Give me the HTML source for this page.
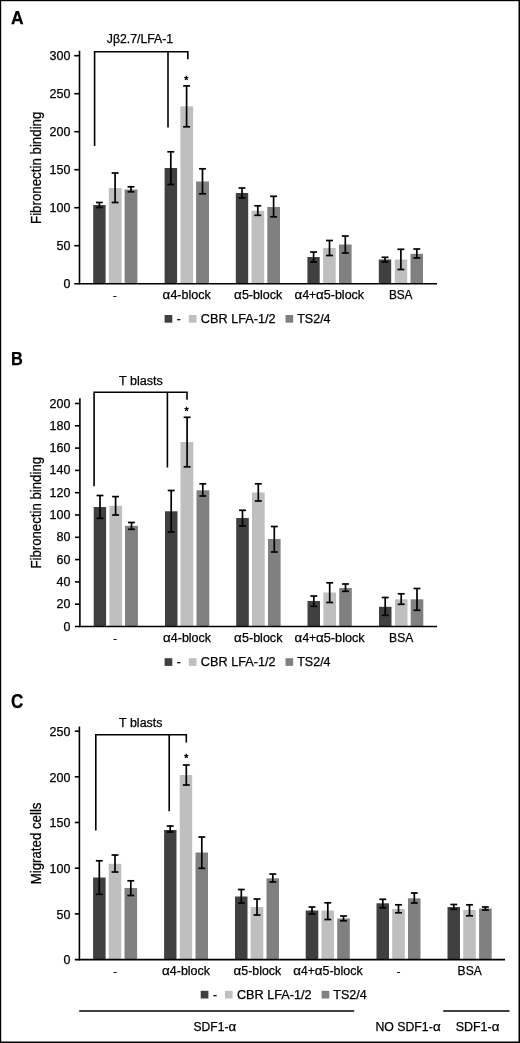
<!DOCTYPE html>
<html lang="en"><head><meta charset="utf-8"><title>Figure</title>
<style>html,body{margin:0;padding:0;background:#fff}svg{display:block}text{font-family:"Liberation Sans",sans-serif;fill:#000;stroke:#000;stroke-width:.25px}</style>
</head><body>
<svg width="520" height="1043" viewBox="0 0 520 1043">
<rect x="0" y="0" width="520" height="1043" fill="#fff"/>
<defs><filter id="soft" x="0" y="0" width="100%" height="100%" filterUnits="userSpaceOnUse" color-interpolation-filters="sRGB"><feGaussianBlur stdDeviation="0.4"/></filter></defs>
<g filter="url(#soft)">
<rect x="0" y="0" width="520" height="1043" fill="#fff"/>
<text x="10.9" y="23.7" font-size="18" textLength="12.6" lengthAdjust="spacingAndGlyphs" font-weight="bold">A</text>
<text x="106.8" y="42.8" font-size="12" textLength="66.3" lengthAdjust="spacingAndGlyphs">J&#946;2.7/LFA-1</text>
<path d="M94.6 146 V51.8 H187.8 V59.2 M168 51.8 V127.5" fill="none" stroke="#000" stroke-width="1.6"/>
<text x="186.4" y="83.8" font-size="10.5" text-anchor="middle" style="stroke-width:.5px">*</text>
<rect x="93.2" y="205" width="12.4" height="78.7" fill="#404040"/>
<rect x="108.8" y="188" width="12.8" height="95.7" fill="#bfbfbf"/>
<rect x="124.6" y="189.5" width="12.8" height="94.2" fill="#808080"/>
<rect x="164.6" y="168" width="12.5" height="115.7" fill="#404040"/>
<rect x="180.4" y="106.3" width="12.7" height="177.4" fill="#bfbfbf"/>
<rect x="196.1" y="181.5" width="12.9" height="102.2" fill="#808080"/>
<rect x="235.8" y="193" width="12.4" height="90.7" fill="#404040"/>
<rect x="251.5" y="210.8" width="12.7" height="72.9" fill="#bfbfbf"/>
<rect x="267.3" y="207" width="12.7" height="76.7" fill="#808080"/>
<rect x="307.4" y="257" width="12.3" height="26.7" fill="#404040"/>
<rect x="323.1" y="248" width="12.6" height="35.7" fill="#bfbfbf"/>
<rect x="339" y="244.5" width="12.6" height="39.2" fill="#808080"/>
<rect x="378.8" y="259.5" width="12.4" height="24.2" fill="#404040"/>
<rect x="394.8" y="259.5" width="12.4" height="24.2" fill="#bfbfbf"/>
<rect x="410.5" y="253.8" width="12.5" height="29.9" fill="#808080"/>
<line x1="99.4" y1="202.5" x2="99.4" y2="207.5" stroke="#000" stroke-width="1.7"/>
<line x1="95.95" y1="202.5" x2="102.85" y2="202.5" stroke="#000" stroke-width="1.7"/>
<line x1="95.95" y1="207.5" x2="102.85" y2="207.5" stroke="#000" stroke-width="1.7"/>
<line x1="115.1" y1="173" x2="115.1" y2="202.5" stroke="#000" stroke-width="1.7"/>
<line x1="111.65" y1="173" x2="118.55" y2="173" stroke="#000" stroke-width="1.7"/>
<line x1="111.65" y1="202.5" x2="118.55" y2="202.5" stroke="#000" stroke-width="1.7"/>
<line x1="131" y1="186.8" x2="131" y2="191.8" stroke="#000" stroke-width="1.7"/>
<line x1="127.55" y1="186.8" x2="134.45" y2="186.8" stroke="#000" stroke-width="1.7"/>
<line x1="127.55" y1="191.8" x2="134.45" y2="191.8" stroke="#000" stroke-width="1.7"/>
<line x1="170.8" y1="151.8" x2="170.8" y2="184.5" stroke="#000" stroke-width="1.7"/>
<line x1="167.35" y1="151.8" x2="174.25" y2="151.8" stroke="#000" stroke-width="1.7"/>
<line x1="167.35" y1="184.5" x2="174.25" y2="184.5" stroke="#000" stroke-width="1.7"/>
<line x1="186.6" y1="85.9" x2="186.6" y2="126.8" stroke="#000" stroke-width="1.7"/>
<line x1="183.15" y1="85.9" x2="190.05" y2="85.9" stroke="#000" stroke-width="1.7"/>
<line x1="183.15" y1="126.8" x2="190.05" y2="126.8" stroke="#000" stroke-width="1.7"/>
<line x1="202.5" y1="168.8" x2="202.5" y2="193.8" stroke="#000" stroke-width="1.7"/>
<line x1="199.05" y1="168.8" x2="205.95" y2="168.8" stroke="#000" stroke-width="1.7"/>
<line x1="199.05" y1="193.8" x2="205.95" y2="193.8" stroke="#000" stroke-width="1.7"/>
<line x1="242" y1="188" x2="242" y2="198" stroke="#000" stroke-width="1.7"/>
<line x1="238.55" y1="188" x2="245.45" y2="188" stroke="#000" stroke-width="1.7"/>
<line x1="238.55" y1="198" x2="245.45" y2="198" stroke="#000" stroke-width="1.7"/>
<line x1="257.8" y1="205.8" x2="257.8" y2="215.3" stroke="#000" stroke-width="1.7"/>
<line x1="254.35" y1="205.8" x2="261.25" y2="205.8" stroke="#000" stroke-width="1.7"/>
<line x1="254.35" y1="215.3" x2="261.25" y2="215.3" stroke="#000" stroke-width="1.7"/>
<line x1="273.6" y1="196.3" x2="273.6" y2="216.8" stroke="#000" stroke-width="1.7"/>
<line x1="270.15" y1="196.3" x2="277.05" y2="196.3" stroke="#000" stroke-width="1.7"/>
<line x1="270.15" y1="216.8" x2="277.05" y2="216.8" stroke="#000" stroke-width="1.7"/>
<line x1="313.6" y1="252" x2="313.6" y2="262" stroke="#000" stroke-width="1.7"/>
<line x1="310.15" y1="252" x2="317.05" y2="252" stroke="#000" stroke-width="1.7"/>
<line x1="310.15" y1="262" x2="317.05" y2="262" stroke="#000" stroke-width="1.7"/>
<line x1="329.5" y1="240.5" x2="329.5" y2="255.5" stroke="#000" stroke-width="1.7"/>
<line x1="326.05" y1="240.5" x2="332.95" y2="240.5" stroke="#000" stroke-width="1.7"/>
<line x1="326.05" y1="255.5" x2="332.95" y2="255.5" stroke="#000" stroke-width="1.7"/>
<line x1="345.3" y1="236" x2="345.3" y2="253" stroke="#000" stroke-width="1.7"/>
<line x1="341.85" y1="236" x2="348.75" y2="236" stroke="#000" stroke-width="1.7"/>
<line x1="341.85" y1="253" x2="348.75" y2="253" stroke="#000" stroke-width="1.7"/>
<line x1="385" y1="257.3" x2="385" y2="262" stroke="#000" stroke-width="1.7"/>
<line x1="381.55" y1="257.3" x2="388.45" y2="257.3" stroke="#000" stroke-width="1.7"/>
<line x1="381.55" y1="262" x2="388.45" y2="262" stroke="#000" stroke-width="1.7"/>
<line x1="400.9" y1="249.3" x2="400.9" y2="269.5" stroke="#000" stroke-width="1.7"/>
<line x1="397.45" y1="249.3" x2="404.35" y2="249.3" stroke="#000" stroke-width="1.7"/>
<line x1="397.45" y1="269.5" x2="404.35" y2="269.5" stroke="#000" stroke-width="1.7"/>
<line x1="416.8" y1="249" x2="416.8" y2="258" stroke="#000" stroke-width="1.7"/>
<line x1="413.35" y1="249" x2="420.25" y2="249" stroke="#000" stroke-width="1.7"/>
<line x1="413.35" y1="258" x2="420.25" y2="258" stroke="#000" stroke-width="1.7"/>
<line x1="79.5" y1="50.7" x2="79.5" y2="284.5" stroke="#000" stroke-width="1.6"/>
<line x1="74.2" y1="283.7" x2="437" y2="283.7" stroke="#000" stroke-width="1.6"/>
<text x="70.4" y="288" font-size="12" text-anchor="end" textLength="6.94" lengthAdjust="spacingAndGlyphs">0</text>
<line x1="74.2" y1="245.7" x2="79.5" y2="245.7" stroke="#000" stroke-width="1.6"/>
<text x="70.4" y="250" font-size="12" text-anchor="end" textLength="13.88" lengthAdjust="spacingAndGlyphs">50</text>
<line x1="74.2" y1="207.7" x2="79.5" y2="207.7" stroke="#000" stroke-width="1.6"/>
<text x="70.4" y="212" font-size="12" text-anchor="end" textLength="20.82" lengthAdjust="spacingAndGlyphs">100</text>
<line x1="74.2" y1="169.7" x2="79.5" y2="169.7" stroke="#000" stroke-width="1.6"/>
<text x="70.4" y="174" font-size="12" text-anchor="end" textLength="20.82" lengthAdjust="spacingAndGlyphs">150</text>
<line x1="74.2" y1="131.7" x2="79.5" y2="131.7" stroke="#000" stroke-width="1.6"/>
<text x="70.4" y="136" font-size="12" text-anchor="end" textLength="20.82" lengthAdjust="spacingAndGlyphs">200</text>
<line x1="74.2" y1="93.7" x2="79.5" y2="93.7" stroke="#000" stroke-width="1.6"/>
<text x="70.4" y="98" font-size="12" text-anchor="end" textLength="20.82" lengthAdjust="spacingAndGlyphs">250</text>
<line x1="74.2" y1="55.7" x2="79.5" y2="55.7" stroke="#000" stroke-width="1.6"/>
<text x="70.4" y="60" font-size="12" text-anchor="end" textLength="20.82" lengthAdjust="spacingAndGlyphs">300</text>
<text transform="translate(40.7 224) rotate(-90)" font-size="14" textLength="112.4" lengthAdjust="spacingAndGlyphs">Fibronectin binding</text>
<text x="114.8" y="298.9" font-size="11" text-anchor="middle">-</text>
<text x="162.5" y="299.3" font-size="12" textLength="7.7" lengthAdjust="spacingAndGlyphs">&#945;</text>
<text x="170.4" y="299.3" font-size="12" textLength="40.3" lengthAdjust="spacingAndGlyphs">4-block</text>
<text x="234" y="299.3" font-size="12" textLength="7.7" lengthAdjust="spacingAndGlyphs">&#945;</text>
<text x="241.9" y="299.3" font-size="12" textLength="40.3" lengthAdjust="spacingAndGlyphs">5-block</text>
<text x="294.5" y="299.3" font-size="12" textLength="7.7" lengthAdjust="spacingAndGlyphs">&#945;</text>
<text x="302.4" y="299.3" font-size="12" textLength="13.7" lengthAdjust="spacingAndGlyphs">4+</text>
<text x="316.1" y="299.3" font-size="12" textLength="7.7" lengthAdjust="spacingAndGlyphs">&#945;</text>
<text x="323.8" y="299.3" font-size="12" textLength="40.3" lengthAdjust="spacingAndGlyphs">5-block</text>
<text x="388.9" y="298.8" font-size="12" textLength="23.6" lengthAdjust="spacingAndGlyphs">BSA</text>
<rect x="164.6" y="315" width="7.7" height="7.7" fill="#404040"/>
<text x="176.8" y="322.7" font-size="12">-</text>
<rect x="188.8" y="315" width="7.7" height="7.7" fill="#bfbfbf"/>
<text x="200.8" y="322.7" font-size="12" textLength="74.8" lengthAdjust="spacingAndGlyphs">CBR LFA-1/2</text>
<rect x="285.5" y="315" width="7.7" height="7.7" fill="#808080"/>
<text x="297.2" y="322.7" font-size="12" textLength="33.4" lengthAdjust="spacingAndGlyphs">TS2/4</text>
<text x="10.95" y="364.6" font-size="18" textLength="11.8" lengthAdjust="spacingAndGlyphs" font-weight="bold">B</text>
<text x="119" y="384.8" font-size="12" textLength="43.7" lengthAdjust="spacingAndGlyphs">T blasts</text>
<path d="M94.1 486.3 V392.2 H187 V399.8 M167.4 392.2 V467.5" fill="none" stroke="#000" stroke-width="1.6"/>
<text x="186.6" y="415.2" font-size="10.5" text-anchor="middle" style="stroke-width:.5px">*</text>
<rect x="93.7" y="507" width="12.4" height="119.2" fill="#404040"/>
<rect x="109.4" y="505.8" width="12.7" height="120.4" fill="#bfbfbf"/>
<rect x="125" y="525.8" width="12.9" height="100.4" fill="#808080"/>
<rect x="165" y="511.3" width="12.5" height="114.9" fill="#404040"/>
<rect x="180.5" y="442" width="12.8" height="184.2" fill="#bfbfbf"/>
<rect x="196.5" y="490.3" width="12.8" height="135.9" fill="#808080"/>
<rect x="236.2" y="518" width="12.6" height="108.2" fill="#404040"/>
<rect x="252" y="492.5" width="12.7" height="133.7" fill="#bfbfbf"/>
<rect x="268" y="539" width="12.6" height="87.2" fill="#808080"/>
<rect x="307.5" y="601" width="12.5" height="25.2" fill="#404040"/>
<rect x="323.4" y="592.5" width="12.6" height="33.7" fill="#bfbfbf"/>
<rect x="339.2" y="588" width="12.6" height="38.2" fill="#808080"/>
<rect x="379" y="606.8" width="12.5" height="19.4" fill="#404040"/>
<rect x="395" y="599.3" width="12.5" height="26.9" fill="#bfbfbf"/>
<rect x="410.7" y="599.3" width="12.6" height="26.9" fill="#808080"/>
<line x1="100" y1="495.5" x2="100" y2="518.3" stroke="#000" stroke-width="1.7"/>
<line x1="96.55" y1="495.5" x2="103.45" y2="495.5" stroke="#000" stroke-width="1.7"/>
<line x1="96.55" y1="518.3" x2="103.45" y2="518.3" stroke="#000" stroke-width="1.7"/>
<line x1="115.6" y1="496.6" x2="115.6" y2="515" stroke="#000" stroke-width="1.7"/>
<line x1="112.15" y1="496.6" x2="119.05" y2="496.6" stroke="#000" stroke-width="1.7"/>
<line x1="112.15" y1="515" x2="119.05" y2="515" stroke="#000" stroke-width="1.7"/>
<line x1="131.5" y1="522.5" x2="131.5" y2="529.3" stroke="#000" stroke-width="1.7"/>
<line x1="128.05" y1="522.5" x2="134.95" y2="522.5" stroke="#000" stroke-width="1.7"/>
<line x1="128.05" y1="529.3" x2="134.95" y2="529.3" stroke="#000" stroke-width="1.7"/>
<line x1="171.2" y1="490.5" x2="171.2" y2="532" stroke="#000" stroke-width="1.7"/>
<line x1="167.75" y1="490.5" x2="174.65" y2="490.5" stroke="#000" stroke-width="1.7"/>
<line x1="167.75" y1="532" x2="174.65" y2="532" stroke="#000" stroke-width="1.7"/>
<line x1="187.1" y1="417.3" x2="187.1" y2="466.8" stroke="#000" stroke-width="1.7"/>
<line x1="183.65" y1="417.3" x2="190.55" y2="417.3" stroke="#000" stroke-width="1.7"/>
<line x1="183.65" y1="466.8" x2="190.55" y2="466.8" stroke="#000" stroke-width="1.7"/>
<line x1="202.8" y1="483.8" x2="202.8" y2="496" stroke="#000" stroke-width="1.7"/>
<line x1="199.35" y1="483.8" x2="206.25" y2="483.8" stroke="#000" stroke-width="1.7"/>
<line x1="199.35" y1="496" x2="206.25" y2="496" stroke="#000" stroke-width="1.7"/>
<line x1="242.5" y1="510.3" x2="242.5" y2="526" stroke="#000" stroke-width="1.7"/>
<line x1="239.05" y1="510.3" x2="245.95" y2="510.3" stroke="#000" stroke-width="1.7"/>
<line x1="239.05" y1="526" x2="245.95" y2="526" stroke="#000" stroke-width="1.7"/>
<line x1="258.3" y1="483.8" x2="258.3" y2="501" stroke="#000" stroke-width="1.7"/>
<line x1="254.85" y1="483.8" x2="261.75" y2="483.8" stroke="#000" stroke-width="1.7"/>
<line x1="254.85" y1="501" x2="261.75" y2="501" stroke="#000" stroke-width="1.7"/>
<line x1="274.3" y1="526.5" x2="274.3" y2="552" stroke="#000" stroke-width="1.7"/>
<line x1="270.85" y1="526.5" x2="277.75" y2="526.5" stroke="#000" stroke-width="1.7"/>
<line x1="270.85" y1="552" x2="277.75" y2="552" stroke="#000" stroke-width="1.7"/>
<line x1="313.8" y1="596" x2="313.8" y2="606.3" stroke="#000" stroke-width="1.7"/>
<line x1="310.35" y1="596" x2="317.25" y2="596" stroke="#000" stroke-width="1.7"/>
<line x1="310.35" y1="606.3" x2="317.25" y2="606.3" stroke="#000" stroke-width="1.7"/>
<line x1="329.7" y1="582.8" x2="329.7" y2="602.5" stroke="#000" stroke-width="1.7"/>
<line x1="326.25" y1="582.8" x2="333.15" y2="582.8" stroke="#000" stroke-width="1.7"/>
<line x1="326.25" y1="602.5" x2="333.15" y2="602.5" stroke="#000" stroke-width="1.7"/>
<line x1="345.5" y1="584" x2="345.5" y2="591.3" stroke="#000" stroke-width="1.7"/>
<line x1="342.05" y1="584" x2="348.95" y2="584" stroke="#000" stroke-width="1.7"/>
<line x1="342.05" y1="591.3" x2="348.95" y2="591.3" stroke="#000" stroke-width="1.7"/>
<line x1="385.2" y1="597.5" x2="385.2" y2="615.3" stroke="#000" stroke-width="1.7"/>
<line x1="381.75" y1="597.5" x2="388.65" y2="597.5" stroke="#000" stroke-width="1.7"/>
<line x1="381.75" y1="615.3" x2="388.65" y2="615.3" stroke="#000" stroke-width="1.7"/>
<line x1="401.2" y1="593.8" x2="401.2" y2="604.3" stroke="#000" stroke-width="1.7"/>
<line x1="397.75" y1="593.8" x2="404.65" y2="593.8" stroke="#000" stroke-width="1.7"/>
<line x1="397.75" y1="604.3" x2="404.65" y2="604.3" stroke="#000" stroke-width="1.7"/>
<line x1="417" y1="588.5" x2="417" y2="610.3" stroke="#000" stroke-width="1.7"/>
<line x1="413.55" y1="588.5" x2="420.45" y2="588.5" stroke="#000" stroke-width="1.7"/>
<line x1="413.55" y1="610.3" x2="420.45" y2="610.3" stroke="#000" stroke-width="1.7"/>
<line x1="79.9" y1="398.3" x2="79.9" y2="627.3" stroke="#000" stroke-width="1.6"/>
<line x1="75" y1="626.5" x2="437" y2="626.5" stroke="#000" stroke-width="1.6"/>
<text x="70.4" y="630.5" font-size="12" text-anchor="end" textLength="6.94" lengthAdjust="spacingAndGlyphs">0</text>
<line x1="75" y1="604.2" x2="79.9" y2="604.2" stroke="#000" stroke-width="1.6"/>
<text x="70.4" y="608.2" font-size="12" text-anchor="end" textLength="13.88" lengthAdjust="spacingAndGlyphs">20</text>
<line x1="75" y1="581.9" x2="79.9" y2="581.9" stroke="#000" stroke-width="1.6"/>
<text x="70.4" y="585.9" font-size="12" text-anchor="end" textLength="13.88" lengthAdjust="spacingAndGlyphs">40</text>
<line x1="75" y1="559.6" x2="79.9" y2="559.6" stroke="#000" stroke-width="1.6"/>
<text x="70.4" y="563.6" font-size="12" text-anchor="end" textLength="13.88" lengthAdjust="spacingAndGlyphs">60</text>
<line x1="75" y1="537.3" x2="79.9" y2="537.3" stroke="#000" stroke-width="1.6"/>
<text x="70.4" y="541.3" font-size="12" text-anchor="end" textLength="13.88" lengthAdjust="spacingAndGlyphs">80</text>
<line x1="75" y1="515" x2="79.9" y2="515" stroke="#000" stroke-width="1.6"/>
<text x="70.4" y="519" font-size="12" text-anchor="end" textLength="20.82" lengthAdjust="spacingAndGlyphs">100</text>
<line x1="75" y1="492.7" x2="79.9" y2="492.7" stroke="#000" stroke-width="1.6"/>
<text x="70.4" y="496.7" font-size="12" text-anchor="end" textLength="20.82" lengthAdjust="spacingAndGlyphs">120</text>
<line x1="75" y1="470.4" x2="79.9" y2="470.4" stroke="#000" stroke-width="1.6"/>
<text x="70.4" y="474.4" font-size="12" text-anchor="end" textLength="20.82" lengthAdjust="spacingAndGlyphs">140</text>
<line x1="75" y1="448.1" x2="79.9" y2="448.1" stroke="#000" stroke-width="1.6"/>
<text x="70.4" y="452.1" font-size="12" text-anchor="end" textLength="20.82" lengthAdjust="spacingAndGlyphs">160</text>
<line x1="75" y1="425.8" x2="79.9" y2="425.8" stroke="#000" stroke-width="1.6"/>
<text x="70.4" y="429.8" font-size="12" text-anchor="end" textLength="20.82" lengthAdjust="spacingAndGlyphs">180</text>
<line x1="75" y1="403.5" x2="79.9" y2="403.5" stroke="#000" stroke-width="1.6"/>
<text x="70.4" y="407.5" font-size="12" text-anchor="end" textLength="20.82" lengthAdjust="spacingAndGlyphs">200</text>
<text transform="translate(40.7 568.6) rotate(-90)" font-size="14" textLength="111.7" lengthAdjust="spacingAndGlyphs">Fibronectin binding</text>
<text x="115.1" y="642.2" font-size="11" text-anchor="middle">-</text>
<text x="162.9" y="642.2" font-size="12" textLength="7.7" lengthAdjust="spacingAndGlyphs">&#945;</text>
<text x="170.8" y="642.2" font-size="12" textLength="40.2" lengthAdjust="spacingAndGlyphs">4-block</text>
<text x="234.1" y="642.2" font-size="12" textLength="7.7" lengthAdjust="spacingAndGlyphs">&#945;</text>
<text x="242" y="642.2" font-size="12" textLength="40.4" lengthAdjust="spacingAndGlyphs">5-block</text>
<text x="294.5" y="642.2" font-size="12" textLength="7.7" lengthAdjust="spacingAndGlyphs">&#945;</text>
<text x="302.4" y="642.2" font-size="12" textLength="13.7" lengthAdjust="spacingAndGlyphs">4+</text>
<text x="316.1" y="642.2" font-size="12" textLength="7.7" lengthAdjust="spacingAndGlyphs">&#945;</text>
<text x="323.8" y="642.2" font-size="12" textLength="40.9" lengthAdjust="spacingAndGlyphs">5-block</text>
<text x="389.1" y="642" font-size="12" textLength="24.1" lengthAdjust="spacingAndGlyphs">BSA</text>
<rect x="164.6" y="658.2" width="7.7" height="7.7" fill="#404040"/>
<text x="176.8" y="665.9" font-size="12">-</text>
<rect x="188.8" y="658.2" width="7.7" height="7.7" fill="#bfbfbf"/>
<text x="200.8" y="665.9" font-size="12" textLength="74.8" lengthAdjust="spacingAndGlyphs">CBR LFA-1/2</text>
<rect x="285.5" y="658.2" width="7.7" height="7.7" fill="#808080"/>
<text x="297.2" y="665.9" font-size="12" textLength="33.4" lengthAdjust="spacingAndGlyphs">TS2/4</text>
<text x="11.1" y="707.75" font-size="19.4" textLength="12.35" lengthAdjust="spacingAndGlyphs" font-weight="bold">C</text>
<text x="119.1" y="726.9" font-size="12" textLength="43.4" lengthAdjust="spacingAndGlyphs">T blasts</text>
<path d="M95.8 830.4 V734.7 H186.3 V742.5 M169.2 734.7 V811.3" fill="none" stroke="#000" stroke-width="1.6"/>
<text x="186.3" y="762.4" font-size="10.5" text-anchor="middle" style="stroke-width:.5px">*</text>
<rect x="93.1" y="877.5" width="12.5" height="82.1" fill="#404040"/>
<rect x="108.7" y="863.8" width="12.6" height="95.8" fill="#bfbfbf"/>
<rect x="124.5" y="888" width="12.6" height="71.6" fill="#808080"/>
<rect x="164.1" y="830" width="12.4" height="129.6" fill="#404040"/>
<rect x="179.7" y="775" width="12.5" height="184.6" fill="#bfbfbf"/>
<rect x="195.5" y="852.5" width="12.5" height="107.1" fill="#808080"/>
<rect x="235" y="896.5" width="12.5" height="63.1" fill="#404040"/>
<rect x="250.7" y="907" width="12.6" height="52.6" fill="#bfbfbf"/>
<rect x="266.5" y="878.3" width="12.5" height="81.3" fill="#808080"/>
<rect x="305.7" y="910.5" width="12.6" height="49.1" fill="#404040"/>
<rect x="321.5" y="910.5" width="12.5" height="49.1" fill="#bfbfbf"/>
<rect x="337.2" y="918.5" width="12.6" height="41.1" fill="#808080"/>
<rect x="376.5" y="903.3" width="12.5" height="56.3" fill="#404040"/>
<rect x="392.2" y="909" width="12.6" height="50.6" fill="#bfbfbf"/>
<rect x="408" y="898.3" width="12.5" height="61.3" fill="#808080"/>
<rect x="447.5" y="907" width="12.5" height="52.6" fill="#404040"/>
<rect x="463.2" y="910" width="12.6" height="49.6" fill="#bfbfbf"/>
<rect x="479.1" y="908.5" width="12.6" height="51.1" fill="#808080"/>
<line x1="99.3" y1="860.8" x2="99.3" y2="894.3" stroke="#000" stroke-width="1.7"/>
<line x1="95.85" y1="860.8" x2="102.75" y2="860.8" stroke="#000" stroke-width="1.7"/>
<line x1="95.85" y1="894.3" x2="102.75" y2="894.3" stroke="#000" stroke-width="1.7"/>
<line x1="115" y1="855" x2="115" y2="872" stroke="#000" stroke-width="1.7"/>
<line x1="111.55" y1="855" x2="118.45" y2="855" stroke="#000" stroke-width="1.7"/>
<line x1="111.55" y1="872" x2="118.45" y2="872" stroke="#000" stroke-width="1.7"/>
<line x1="130.8" y1="880.8" x2="130.8" y2="895.5" stroke="#000" stroke-width="1.7"/>
<line x1="127.35" y1="880.8" x2="134.25" y2="880.8" stroke="#000" stroke-width="1.7"/>
<line x1="127.35" y1="895.5" x2="134.25" y2="895.5" stroke="#000" stroke-width="1.7"/>
<line x1="170.2" y1="826" x2="170.2" y2="832" stroke="#000" stroke-width="1.7"/>
<line x1="166.75" y1="826" x2="173.65" y2="826" stroke="#000" stroke-width="1.7"/>
<line x1="166.75" y1="832" x2="173.65" y2="832" stroke="#000" stroke-width="1.7"/>
<line x1="186.3" y1="765" x2="186.3" y2="785" stroke="#000" stroke-width="1.7"/>
<line x1="182.85" y1="765" x2="189.75" y2="765" stroke="#000" stroke-width="1.7"/>
<line x1="182.85" y1="785" x2="189.75" y2="785" stroke="#000" stroke-width="1.7"/>
<line x1="201.8" y1="837" x2="201.8" y2="868.3" stroke="#000" stroke-width="1.7"/>
<line x1="198.35" y1="837" x2="205.25" y2="837" stroke="#000" stroke-width="1.7"/>
<line x1="198.35" y1="868.3" x2="205.25" y2="868.3" stroke="#000" stroke-width="1.7"/>
<line x1="241.3" y1="889.5" x2="241.3" y2="903" stroke="#000" stroke-width="1.7"/>
<line x1="237.85" y1="889.5" x2="244.75" y2="889.5" stroke="#000" stroke-width="1.7"/>
<line x1="237.85" y1="903" x2="244.75" y2="903" stroke="#000" stroke-width="1.7"/>
<line x1="257" y1="899" x2="257" y2="915" stroke="#000" stroke-width="1.7"/>
<line x1="253.55" y1="899" x2="260.45" y2="899" stroke="#000" stroke-width="1.7"/>
<line x1="253.55" y1="915" x2="260.45" y2="915" stroke="#000" stroke-width="1.7"/>
<line x1="272.8" y1="874" x2="272.8" y2="882" stroke="#000" stroke-width="1.7"/>
<line x1="269.35" y1="874" x2="276.25" y2="874" stroke="#000" stroke-width="1.7"/>
<line x1="269.35" y1="882" x2="276.25" y2="882" stroke="#000" stroke-width="1.7"/>
<line x1="312" y1="907" x2="312" y2="914" stroke="#000" stroke-width="1.7"/>
<line x1="308.55" y1="907" x2="315.45" y2="907" stroke="#000" stroke-width="1.7"/>
<line x1="308.55" y1="914" x2="315.45" y2="914" stroke="#000" stroke-width="1.7"/>
<line x1="327.8" y1="902.8" x2="327.8" y2="919.5" stroke="#000" stroke-width="1.7"/>
<line x1="324.35" y1="902.8" x2="331.25" y2="902.8" stroke="#000" stroke-width="1.7"/>
<line x1="324.35" y1="919.5" x2="331.25" y2="919.5" stroke="#000" stroke-width="1.7"/>
<line x1="343.5" y1="916" x2="343.5" y2="920.8" stroke="#000" stroke-width="1.7"/>
<line x1="340.05" y1="916" x2="346.95" y2="916" stroke="#000" stroke-width="1.7"/>
<line x1="340.05" y1="920.8" x2="346.95" y2="920.8" stroke="#000" stroke-width="1.7"/>
<line x1="382.8" y1="899.3" x2="382.8" y2="907.8" stroke="#000" stroke-width="1.7"/>
<line x1="379.35" y1="899.3" x2="386.25" y2="899.3" stroke="#000" stroke-width="1.7"/>
<line x1="379.35" y1="907.8" x2="386.25" y2="907.8" stroke="#000" stroke-width="1.7"/>
<line x1="398.5" y1="904.8" x2="398.5" y2="912.8" stroke="#000" stroke-width="1.7"/>
<line x1="395.05" y1="904.8" x2="401.95" y2="904.8" stroke="#000" stroke-width="1.7"/>
<line x1="395.05" y1="912.8" x2="401.95" y2="912.8" stroke="#000" stroke-width="1.7"/>
<line x1="414.3" y1="893" x2="414.3" y2="903" stroke="#000" stroke-width="1.7"/>
<line x1="410.85" y1="893" x2="417.75" y2="893" stroke="#000" stroke-width="1.7"/>
<line x1="410.85" y1="903" x2="417.75" y2="903" stroke="#000" stroke-width="1.7"/>
<line x1="453.8" y1="904.5" x2="453.8" y2="909.3" stroke="#000" stroke-width="1.7"/>
<line x1="450.35" y1="904.5" x2="457.25" y2="904.5" stroke="#000" stroke-width="1.7"/>
<line x1="450.35" y1="909.3" x2="457.25" y2="909.3" stroke="#000" stroke-width="1.7"/>
<line x1="469.5" y1="904.8" x2="469.5" y2="915.8" stroke="#000" stroke-width="1.7"/>
<line x1="466.05" y1="904.8" x2="472.95" y2="904.8" stroke="#000" stroke-width="1.7"/>
<line x1="466.05" y1="915.8" x2="472.95" y2="915.8" stroke="#000" stroke-width="1.7"/>
<line x1="485.4" y1="907" x2="485.4" y2="910" stroke="#000" stroke-width="1.7"/>
<line x1="481.95" y1="907" x2="488.85" y2="907" stroke="#000" stroke-width="1.7"/>
<line x1="481.95" y1="910" x2="488.85" y2="910" stroke="#000" stroke-width="1.7"/>
<line x1="79.4" y1="726.5" x2="79.4" y2="960.4" stroke="#000" stroke-width="1.6"/>
<line x1="74.8" y1="959.6" x2="505" y2="959.6" stroke="#000" stroke-width="1.6"/>
<text x="70.4" y="964.3" font-size="12" text-anchor="end" textLength="6.94" lengthAdjust="spacingAndGlyphs">0</text>
<line x1="74.8" y1="913.9" x2="79.4" y2="913.9" stroke="#000" stroke-width="1.6"/>
<text x="70.4" y="918.6" font-size="12" text-anchor="end" textLength="13.88" lengthAdjust="spacingAndGlyphs">50</text>
<line x1="74.8" y1="868.2" x2="79.4" y2="868.2" stroke="#000" stroke-width="1.6"/>
<text x="70.4" y="872.9" font-size="12" text-anchor="end" textLength="20.82" lengthAdjust="spacingAndGlyphs">100</text>
<line x1="74.8" y1="822.5" x2="79.4" y2="822.5" stroke="#000" stroke-width="1.6"/>
<text x="70.4" y="827.2" font-size="12" text-anchor="end" textLength="20.82" lengthAdjust="spacingAndGlyphs">150</text>
<line x1="74.8" y1="776.8" x2="79.4" y2="776.8" stroke="#000" stroke-width="1.6"/>
<text x="70.4" y="781.5" font-size="12" text-anchor="end" textLength="20.82" lengthAdjust="spacingAndGlyphs">200</text>
<line x1="74.8" y1="731.1" x2="79.4" y2="731.1" stroke="#000" stroke-width="1.6"/>
<text x="70.4" y="735.8" font-size="12" text-anchor="end" textLength="20.82" lengthAdjust="spacingAndGlyphs">250</text>
<text transform="translate(40.7 884.3) rotate(-90)" font-size="14" textLength="81.8" lengthAdjust="spacingAndGlyphs">Migrated cells</text>
<text x="115" y="975.1" font-size="11" text-anchor="middle">-</text>
<text x="161.9" y="974.7" font-size="12" textLength="7.7" lengthAdjust="spacingAndGlyphs">&#945;</text>
<text x="169.8" y="974.7" font-size="12" textLength="40.2" lengthAdjust="spacingAndGlyphs">4-block</text>
<text x="233.4" y="974.7" font-size="12" textLength="7.7" lengthAdjust="spacingAndGlyphs">&#945;</text>
<text x="241.3" y="974.7" font-size="12" textLength="39.8" lengthAdjust="spacingAndGlyphs">5-block</text>
<text x="293.2" y="974.7" font-size="12" textLength="7.7" lengthAdjust="spacingAndGlyphs">&#945;</text>
<text x="301.1" y="974.7" font-size="12" textLength="13.7" lengthAdjust="spacingAndGlyphs">4+</text>
<text x="314.8" y="974.7" font-size="12" textLength="7.7" lengthAdjust="spacingAndGlyphs">&#945;</text>
<text x="322.5" y="974.7" font-size="12" textLength="40.1" lengthAdjust="spacingAndGlyphs">5-block</text>
<text x="398.7" y="975.1" font-size="11" text-anchor="middle">-</text>
<text x="457.6" y="974.7" font-size="12" textLength="24.1" lengthAdjust="spacingAndGlyphs">BSA</text>
<rect x="200.7" y="990.8" width="7.7" height="7.7" fill="#404040"/>
<text x="212.9" y="998.5" font-size="12">-</text>
<rect x="224.9" y="990.8" width="7.7" height="7.7" fill="#bfbfbf"/>
<text x="236.9" y="998.5" font-size="12" textLength="74.8" lengthAdjust="spacingAndGlyphs">CBR LFA-1/2</text>
<rect x="321.6" y="990.8" width="7.7" height="7.7" fill="#808080"/>
<text x="333.3" y="998.5" font-size="12" textLength="33.4" lengthAdjust="spacingAndGlyphs">TS2/4</text>
<line x1="79.2" y1="1011" x2="354.2" y2="1011" stroke="#000" stroke-width="1.5"/>
<line x1="443.2" y1="1011" x2="509.5" y2="1011" stroke="#000" stroke-width="1.5"/>
<text x="193.5" y="1030.7" font-size="12" textLength="34.9" lengthAdjust="spacingAndGlyphs">SDF1-</text>
<text x="228.5" y="1030.7" font-size="12" textLength="7.7" lengthAdjust="spacingAndGlyphs">&#945;</text>
<text x="375.4" y="1030.7" font-size="12" textLength="57.4" lengthAdjust="spacingAndGlyphs">NO SDF1-</text>
<text x="432.9" y="1030.7" font-size="12" textLength="7.7" lengthAdjust="spacingAndGlyphs">&#945;</text>
<text x="455.7" y="1030.7" font-size="12" textLength="36" lengthAdjust="spacingAndGlyphs">SDF1-</text>
<text x="491.8" y="1030.7" font-size="12" textLength="7.7" lengthAdjust="spacingAndGlyphs">&#945;</text>
<rect x="0" y="0" width="520" height="1.2" fill="#000"/>
<rect x="0" y="0" width="1.2" height="1043" fill="#000"/>
<rect x="518.5" y="0" width="1.5" height="1043" fill="#000"/>
<rect x="0" y="1041.5" width="520" height="1.5" fill="#000"/>
</g>
</svg>
</body></html>
